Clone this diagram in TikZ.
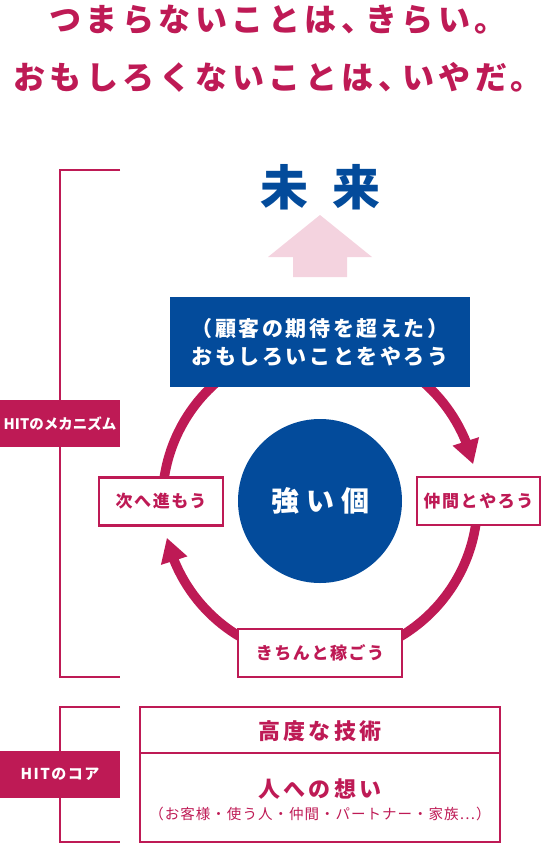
\documentclass[tikz,border=0pt]{standalone}
\usepackage{fontspec}
\setmainfont{Noto Sans CJK JP}
\usetikzlibrary{arrows.meta,bending}
\definecolor{hitred}{HTML}{BE1A55}
\definecolor{hitblue}{HTML}{034B9B}
\definecolor{hitpink}{HTML}{F4D3DF}
\tikzset{
  headline/.style={text=hitred, inner sep=0pt,
    font=\fontsize{32}{36}\selectfont\bfseries\addfontfeature{LetterSpace=14}},
  bracket/.style={draw=hitred, line width=2.5pt},
  tagbox/.style={fill=hitred, text=white, inner sep=0pt,
    minimum width=120pt, minimum height=47pt},
  ringline/.style={draw=hitred, line width=9.5pt},
  tipbig/.style={-{Triangle[length=24pt,width=26pt]}},
  stepbox/.style={draw=hitred, line width=2.5pt, fill=white, text=hitred,
    inner sep=0pt, minimum height=48pt,
    font=\fontsize{17}{20}\selectfont\bfseries\addfontfeature{LetterSpace=9}},
  corebox/.style={draw=hitred, line width=2.5pt, minimum width=360pt, inner sep=0pt},
  coretext/.style={text=hitred, inner sep=0pt,
    font=\fontsize{22}{26}\selectfont\bfseries\addfontfeature{LetterSpace=14}}
}
\begin{document}
\begin{tikzpicture}[x=1pt,y=-1pt]
\useasboundingbox (0,0) rectangle (542,844);
% ---------- headline ----------
\node[headline] (line1) at (278,20) {つまらないことは、\hspace{-8pt}きらい。};
\node[headline] (line2) at (278,77) {おもしろくないことは、\hspace{-8pt}いやだ。};
% ---------- brackets ----------
\draw[bracket] (120,170) -- (60,170) -- (60,677) -- (120,677);
\draw[bracket] (120,707) -- (60,707) -- (60,842) -- (120,842);
\node[tagbox, font=\fontsize{14.5}{17}\selectfont\bfseries] (mechanism) at (60,423.5) {HITのメカニズム};
\node[tagbox, font=\fontsize{15}{17}\selectfont\bfseries\addfontfeature{LetterSpace=10}] (coretag) at (60,774.5) {HITのコア};
% ---------- future ----------
\node[text=hitblue, inner sep=0pt, font=\fontsize{48}{52}\selectfont\bfseries] (future) at (320,187) {未\hspace{24pt}来};
\fill[hitpink] (320,215) -- (372,257) -- (347,257) -- (347,277)
  -- (293,277) -- (293,257) -- (268,257) -- cycle;
% ---------- cycle ----------
\coordinate (ring) at (320,501);
\draw[ringline, tipbig] (ring) ++(305:157.5) arc[start angle=305, end angle=346.5, radius=157.5];
\draw[ringline] (ring) ++(0:157.5) arc[start angle=0, end angle=90, radius=157.5];
\draw[ringline, tipbig] (ring) ++(90:157.5) arc[start angle=90, end angle=166.5, radius=157.5];
\draw[ringline] (ring) ++(180:157.5) arc[start angle=180, end angle=235, radius=157.5];
% ---------- plan ----------
\node[fill=hitblue, text=white, minimum width=300pt, minimum height=90pt, inner sep=0pt, align=center,
  font=\fontsize{21}{28}\selectfont\bfseries\addfontfeature{LetterSpace=12}] (plan) at (320,342)
  {（顧客の期待を超えた）\\おもしろいことをやろう};
% ---------- self ----------
\node[circle, fill=hitblue, text=white, minimum size=164pt, inner sep=0pt,
  font=\fontsize{28}{32}\selectfont\bfseries] (self) at (320,501) {強\hspace{7pt}い\hspace{7pt}個};
% ---------- steps ----------
\node[stepbox, minimum width=124pt] (next) at (161,501.5) {次へ進もう};
\node[stepbox, minimum width=123pt] (team) at (478.5,501) {仲間とやろう};
\node[stepbox, minimum width=164pt] (earn) at (320,653) {きちんと稼ごう};
% ---------- core ----------
\node[corebox, minimum height=46pt] (skill) at (320,730) {};
\node[corebox, minimum height=89pt] (heart) at (320,797.5) {};
\node[coretext] (skilltext) at (320,731) {高度な技術};
\node[coretext] (wish) at (320,789) {人への想い};
\node[text=hitred, inner sep=0pt, font=\fontsize{14.5}{16}\selectfont\addfontfeature{LetterSpace=7}] (wishsub) at (320,814)
  {（お客様・使う人・仲間・パートナー・家族…）};
\end{tikzpicture}
\end{document}
